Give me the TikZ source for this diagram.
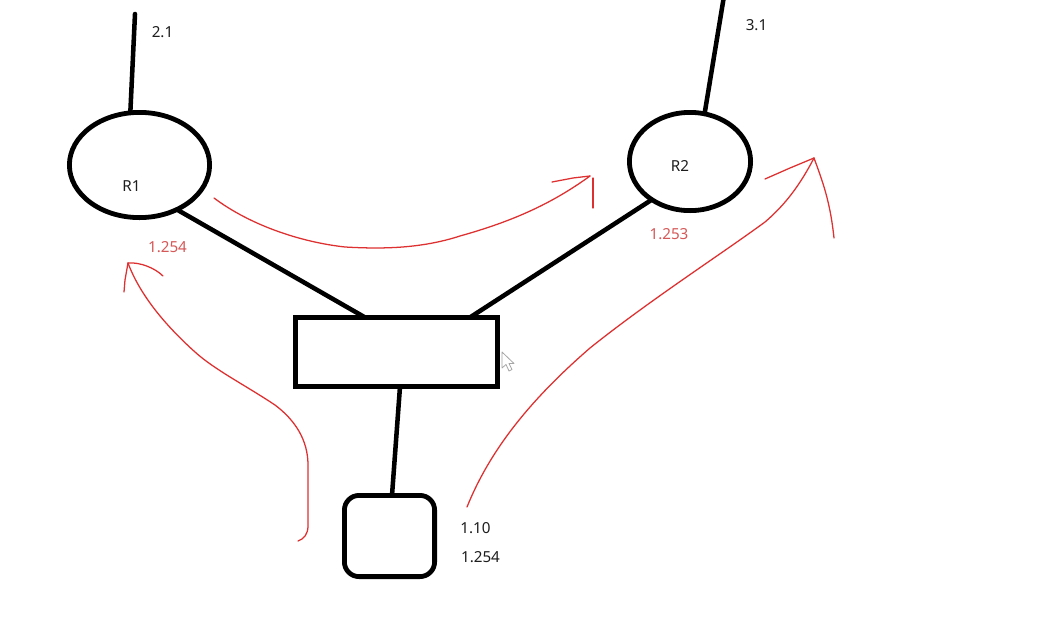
\documentclass[tikz,border=0pt]{standalone}
\usepackage{fontspec}
\setmainfont{Noto Sans}
\usetikzlibrary{shapes.geometric,calc}
\definecolor{pen}{RGB}{222,48,48}
\definecolor{redlbl}{RGB}{214,88,88}
\definecolor{ink}{RGB}{30,30,30}
\tikzset{
  router/.style={draw=black,line width=3.6pt,ellipse,inner sep=0pt,outer sep=0pt},
  boxstyle/.style={draw=black,line width=3.6pt,rectangle,inner sep=0pt,outer sep=0pt},
  wire/.style={draw=black,line width=3.4pt,line cap=round},
  lbl/.style={text=ink,font=\fontsize{11.4}{13}\selectfont,inner sep=0pt},
  rlbl/.style={text=redlbl,font=\fontsize{11.4}{13}\selectfont,inner sep=0pt},
  stroke/.style={draw=pen,line width=0.95pt,line cap=round,line join=round},
}
\begin{document}
\begin{tikzpicture}[x=0.75pt,y=-0.75pt]
\useasboundingbox[fill=white] (0,0) rectangle (1043,618);
% devices
\node[router,minimum width=105.15pt,minimum height=78.9pt] (R1) at (139.5,165) {};
\node[router,minimum width=90.9pt,minimum height=73.65pt] (R2) at (690,161.5) {};
% cursor (behind the switch border)
\draw[gray!70,line width=0.6pt,fill=white,line join=round] (502,352) coordinate (cur) -- (502,368) -- (506,364.5) -- (509,371) -- (512,369.5) -- (509,363.5) -- (514,363.5) -- cycle;
\node[boxstyle,minimum width=151.65pt,minimum height=51.9pt] (sw) at (396.5,352) {};
\node[boxstyle,rounded corners=11pt,minimum width=67.65pt,minimum height=60.9pt] (host) at (389.5,536) {};
% free ends
\coordinate (r1up) at (135,14);
\coordinate (r2up) at (724,-4);
% wires
\draw[wire] (R1.100) -- (r1up);
\draw[wire] (R2.73) -- (r2up);
\draw[wire] (R1.-50) -- ($(sw.north)+(-31.5,0)$);
\draw[wire] (R2.-135) -- ($(sw.north)+(73.5,0)$);
\draw[wire] ($(sw.south)+(3.5,0)$) -- ($(host.north)+(2.5,0)$);
% labels
\node[lbl] (l21) at (162.5,32) {2.1};
\node[lbl] (lR1) at (131.5,186) {R1};
\node[rlbl] (l1254a) at (167.5,247) {1.254};
\node[lbl] (l31) at (756.5,25) {3.1};
\node[lbl] (lR2) at (680,166) {R2};
\node[rlbl] (l1253) at (669,234) {1.253};
\node[lbl] (l110) at (475.5,528.5) {1.10};
\node[lbl] (l1254b) at (480.5,557) {1.254};
% red hand-drawn arrows
% left arrow
\draw[stroke] (298,541) .. controls (304,539) and (308,534) .. (308,526)
  -- (308,465) .. controls (308,440) and (295,420) .. (275,405)
  .. controls (245,385) and (215,370) .. (195,352)
  .. controls (165,325) and (140,295) .. (128,263);
\draw[stroke] (124,292) -- (125,280) -- (128,263);
\draw[stroke] (128,263) .. controls (140,262) and (155,268) .. (163,276);
% top arrow
\draw[stroke] (214,198) .. controls (250,225) and (300,242) .. (345,247)
  .. controls (380,249) and (420,249) .. (460,236)
  .. controls (510,222) and (550,205) .. (590,176);
\draw[stroke] (552,182) -- (573,178) -- (590,176);
\draw[stroke] (593,178) -- (593,208);
% right arrow
\draw[stroke] (467,507) .. controls (490,450) and (530,400) .. (590,348)
  .. controls (650,300) and (720,255) .. (765,222)
  .. controls (785,205) and (800,185) .. (814,158);
\draw[stroke] (765,179) -- (790,168) -- (814,158);
\draw[stroke] (814,158) .. controls (822,180) and (830,200) .. (834,238);
\end{tikzpicture}
\end{document}
